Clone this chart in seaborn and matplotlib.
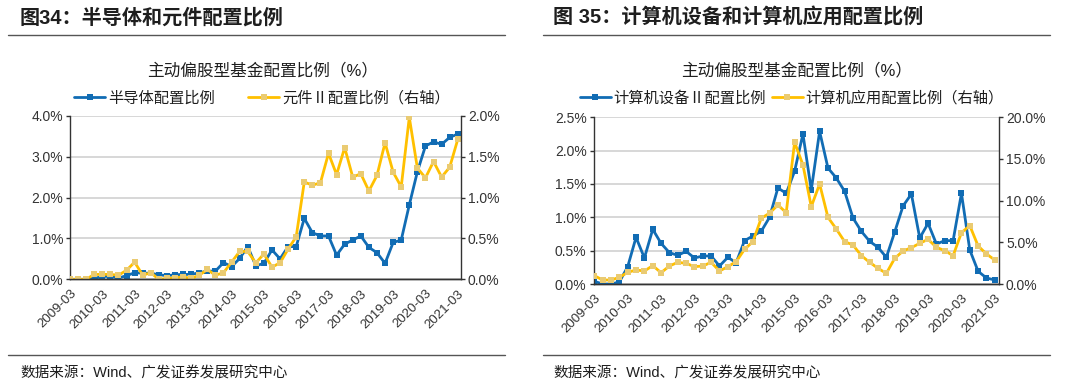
# 半导体/元件 与 计算机设备/计算机应用 配置比例图
import numpy as np
import pandas as pd
import matplotlib
matplotlib.use('Agg')
import matplotlib.pyplot as plt
import seaborn as sns
from matplotlib.lines import Line2D
from matplotlib.ticker import FuncFormatter

sns.set_theme(style='white')
plt.rcParams['font.family'] = ['Liberation Sans', 'Noto Sans CJK SC', 'DejaVu Sans']
plt.rcParams['axes.unicode_minus'] = False

# 季度标签 2009-03 ... 2021-03
quarters = [f'{y}-{m:02d}' for y in range(2009, 2022) for m in (3, 6, 9, 12)][:49]
year_ticks = [q for q in quarters if q.endswith('-03')]

# 图34 数据（%）
semi = [0.00, 0.00, 0.00, 0.02, 0.07, 0.07, 0.03, 0.09, 0.16, 0.15,
        0.15, 0.11, 0.09, 0.11, 0.12, 0.12, 0.16, 0.20, 0.20, 0.41,
        0.31, 0.51, 0.80, 0.33, 0.39, 0.72, 0.50, 0.80, 0.80, 1.49,
        1.14, 1.06, 1.06, 0.59, 0.86, 0.96, 1.06, 0.78, 0.65, 0.39,
        0.90, 0.96, 1.82, 2.63, 3.26, 3.36, 3.30, 3.47, 3.55]
comp = [0.00, 0.00, 0.00, 0.06, 0.06, 0.06, 0.05, 0.11, 0.21, 0.05,
        0.08, 0.00, 0.01, 0.02, 0.03, 0.01, 0.05, 0.12, 0.05, 0.08,
        0.21, 0.34, 0.34, 0.20, 0.31, 0.15, 0.20, 0.37, 0.52, 1.19,
        1.15, 1.18, 1.54, 1.28, 1.61, 1.25, 1.29, 1.08, 1.27, 1.67,
        1.31, 1.13, 1.98, 1.36, 1.24, 1.44, 1.25, 1.37, 1.71]

# 图35 数据（%）
hw = [0.04, 0.00, 0.00, 0.03, 0.26, 0.70, 0.39, 0.82, 0.61, 0.47,
      0.43, 0.49, 0.39, 0.42, 0.42, 0.27, 0.40, 0.32, 0.65, 0.72,
      0.79, 1.00, 1.44, 1.36, 1.69, 2.25, 1.41, 2.29, 1.74, 1.59,
      1.39, 0.99, 0.79, 0.64, 0.55, 0.40, 0.78, 1.17, 1.35, 0.69,
      0.91, 0.60, 0.65, 0.65, 1.36, 0.51, 0.19, 0.09, 0.06]
sw = [1.00, 0.48, 0.48, 0.80, 1.40, 1.68, 1.56, 2.20, 1.36, 2.16,
      2.60, 2.48, 2.08, 2.16, 2.60, 1.56, 2.08, 2.68, 4.16, 5.08,
      7.88, 8.50, 9.48, 8.56, 17.0, 14.3, 9.28, 12.0, 8.00, 6.60,
      5.08, 4.68, 3.40, 2.60, 1.88, 1.28, 3.08, 3.96, 4.36, 4.88,
      5.36, 4.40, 4.00, 3.40, 6.16, 7.00, 4.56, 3.60, 2.88]

BLUE = '#116CB4'
GOLD = '#FFC000'
GOLD_MK = '#EACB72'
TXT = '#1e1e1e'

fig = plt.figure(figsize=(10.8, 3.9), dpi=100)
pos = np.arange(len(quarters))


def pct(dec):
    return FuncFormatter(lambda v, p: f'{v:.{dec}f}%')


def draw_panel(rect, left_vals, right_vals, lmax, lstep, rmax, rstep, xlim):
    ax = fig.add_axes(rect)
    ax2 = ax.twinx()
    df = pd.DataFrame({'pos': pos, 'l': left_vals, 'r': right_vals})
    sns.lineplot(data=df, x='pos', y='l', ax=ax, color=BLUE, linewidth=2.0,
                 marker='s', markersize=4.8, markeredgewidth=0, markerfacecolor=BLUE)
    sns.lineplot(data=df, x='pos', y='r', ax=ax2, color=GOLD, linewidth=2.0,
                 marker='s', markersize=4.8, markeredgewidth=0, markerfacecolor=GOLD_MK)
    ax.set_ylim(0, lmax)
    ax2.set_ylim(0, rmax)
    ax.set_yticks(np.arange(0, lmax + 1e-9, lstep))
    ax2.set_yticks(np.arange(0, rmax + 1e-9, rstep))
    ax.yaxis.set_major_formatter(pct(1))
    ax2.yaxis.set_major_formatter(pct(1))
    ax.set_xlim(*xlim)
    ax.set_xticks(pos[::4])
    ax.set_xticklabels(year_ticks, rotation=45, ha='right', rotation_mode='anchor')
    ax.grid(axis='y', color='#d4d4d4', linewidth=1.3)
    ax.set_axisbelow(True)
    for a in (ax, ax2):
        a.set_xlabel('')
        a.set_ylabel('')
        a.spines['top'].set_visible(False)
        for s in ('left', 'right', 'bottom'):
            a.spines[s].set_color('#333333')
            a.spines[s].set_linewidth(1.0)
        a.tick_params(axis='both', labelsize=10, colors='#333333', length=3,
                      width=1, direction='out', pad=2)
    ax.spines['right'].set_visible(False)
    ax2.spines['left'].set_visible(False)
    ax.tick_params(axis='x', labelsize=9.5, pad=3)
    return ax, ax2


draw_panel([70 / 1080, 1 - 279.3 / 390, 391 / 1080, 163.6 / 390],
           semi, comp, 4.0, 1.0, 2.0, 0.5, (0, 48.4))
draw_panel([593.5 / 1080, 1 - 284 / 390, 405.5 / 1080, 166.7 / 390],
           hw, sw, 2.5, 0.5, 20.0, 5.0, (-0.1, 48.5))

# 标题、分隔线、副标题、图例、数据来源
fig.text(20 / 1080, 1 - 18 / 390, '图34：半导体和元件配置比例', fontsize=14.5,
         fontweight='bold', color=TXT, va='center', ha='left')
fig.text(553 / 1080, 1 - 18 / 390, '图 35：计算机设备和计算机应用配置比例', fontsize=14.5,
         fontweight='bold', color=TXT, va='center', ha='left')
for x0, x1 in ((8, 505), (543, 1050)):
    for yy in (35, 355):
        fig.add_artist(Line2D([x0 / 1080, x1 / 1080], [1 - yy / 390] * 2,
                              color='#555555', linewidth=1.0))

fig.text(263 / 1080, 1 - 70 / 390, '主动偏股型基金配置比例（%）', fontsize=12,
         color=TXT, ha='center', va='center')
fig.text(797 / 1080, 1 - 70 / 390, '主动偏股型基金配置比例（%）', fontsize=12,
         color=TXT, ha='center', va='center')


def handles():
    hb = Line2D([], [], color=BLUE, linewidth=2.0, marker='s', markersize=5,
                markeredgewidth=0)
    hy = Line2D([], [], color=GOLD, linewidth=2.0, marker='s', markersize=5,
                markeredgewidth=0, markerfacecolor=GOLD_MK)
    return [hb, hy]


fig.legend(handles(), ['半导体配置比例', '元件Ⅱ配置比例（右轴）'], loc='center',
           bbox_to_anchor=(262 / 1080, 1 - 98 / 390), ncol=2, frameon=False,
           fontsize=11, handlelength=2.0, handletextpad=0.2, columnspacing=2.2,
           labelcolor=TXT)
fig.legend(handles(), ['计算机设备Ⅱ配置比例', '计算机应用配置比例（右轴）'], loc='center',
           bbox_to_anchor=(792 / 1080, 1 - 98 / 390), ncol=2, frameon=False,
           fontsize=11, handlelength=2.0, handletextpad=0.2, columnspacing=0.4,
           labelcolor=TXT)

fig.text(20 / 1080, 1 - 373 / 390, '数据来源：Wind、广发证券发展研究中心', fontsize=10.5,
         color=TXT, ha='left', va='center')
fig.text(553 / 1080, 1 - 373 / 390, '数据来源：Wind、广发证券发展研究中心', fontsize=10.5,
         color=TXT, ha='left', va='center')

fig.savefig('out.png', dpi=100)
